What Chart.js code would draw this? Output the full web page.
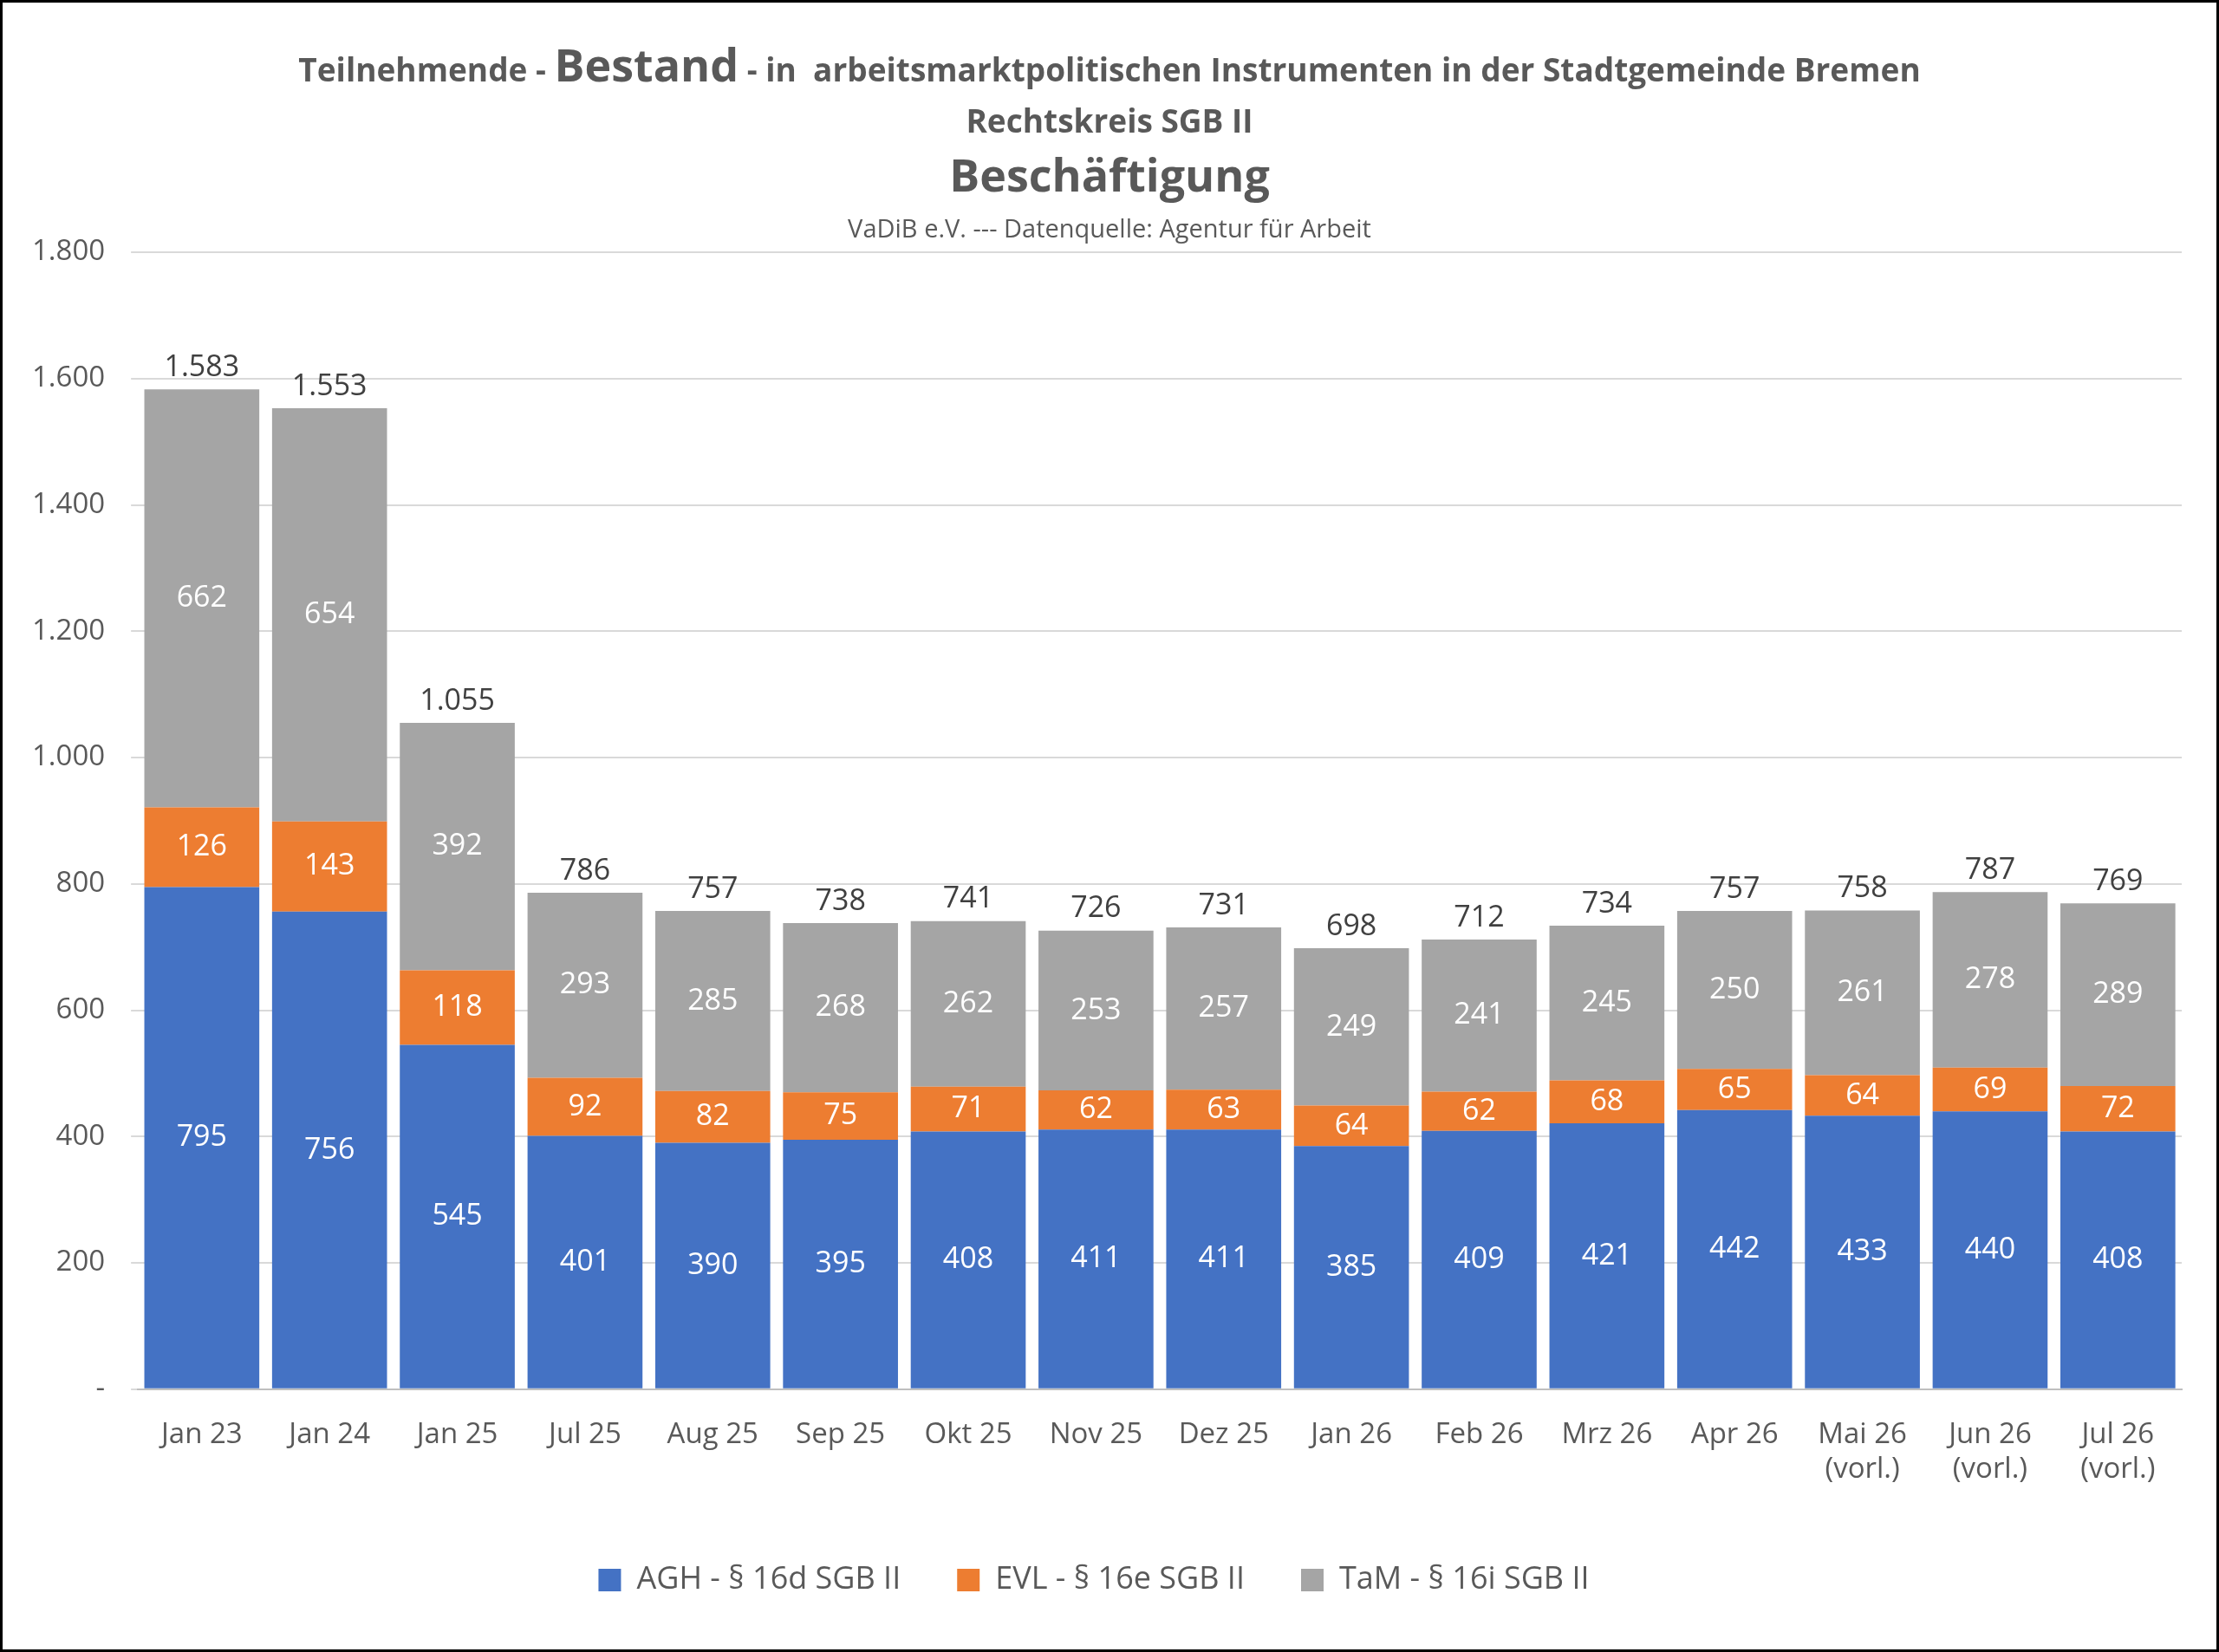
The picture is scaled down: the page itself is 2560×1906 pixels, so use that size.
<!DOCTYPE html>
<html lang="de">
<head>
<meta charset="UTF-8">
<title>Teilnehmende - Bestand - Beschäftigung</title>
<script src="https://cdn.jsdelivr.net/npm/chart.js@4/dist/chart.umd.min.js"></script>
<style>
    body { margin: 0; background: #fff; }
    #wrap { width: 2560px; height: 1906px; box-sizing: border-box; border: 3px solid #000; }
    canvas { display: block; }
</style>
</head>
<body>
<div id="wrap"><canvas id="chart" width="2554" height="1900"></canvas></div>
<script>
const labels = ['Jan 23', 'Jan 24', 'Jan 25', 'Jul 25', 'Aug 25', 'Sep 25', 'Okt 25', 'Nov 25', 'Dez 25',
    'Jan 26', 'Feb 26', 'Mrz 26', 'Apr 26', ['Mai 26', '(vorl.)'], ['Jun 26', '(vorl.)'], ['Jul 26', '(vorl.)']];
const agh = [795, 756, 545, 401, 390, 395, 408, 411, 411, 385, 409, 421, 442, 433, 440, 408];
const evl = [126, 143, 118, 92, 82, 75, 71, 62, 63, 64, 62, 68, 65, 64, 69, 72];
const tam = [662, 654, 392, 293, 285, 268, 262, 253, 257, 249, 241, 245, 250, 261, 278, 289];

const FONT = '"Open Sans", sans-serif';
const fmt = v => v.toLocaleString('de-DE');

// Title block drawn by hand because of the mixed font sizes
const titlePlugin = {
    id: 'titles',
    afterDraw(chart) {
        const ctx = chart.ctx;
        const cx = chart.width / 2;
        ctx.save();
        ctx.fillStyle = '#595959';
        ctx.textBaseline = 'alphabetic';
        const parts = [
            ['bold 37px ' + FONT, 'Teilnehmende - '],
            ['bold 52px ' + FONT, 'Bestand'],
            ['bold 37px ' + FONT, ' - in  arbeitsmarktpolitischen Instrumenten in der Stadtgemeinde Bremen']
        ];
        let total = 0;
        parts.forEach(p => { ctx.font = p[0]; total += ctx.measureText(p[1]).width; });
        let x = cx - total / 2;
        ctx.textAlign = 'left';
        parts.forEach(p => { ctx.font = p[0]; ctx.fillText(p[1], x, 91); x += ctx.measureText(p[1]).width; });
        ctx.textAlign = 'center';
        ctx.font = 'bold 37px ' + FONT;
        ctx.fillText('Rechtskreis SGB II', cx, 150);
        ctx.font = 'bold 52px ' + FONT;
        ctx.fillText('Beschäftigung', cx, 218);
        ctx.font = '29px ' + FONT;
        ctx.fillText('VaDiB e.V. --- Datenquelle: Agentur für Arbeit', cx, 271);
        ctx.restore();
    }
};

// Segment values and totals
const valuePlugin = {
    id: 'values',
    afterDatasetsDraw(chart) {
        const ctx = chart.ctx;
        ctx.save();
        ctx.textAlign = 'center';
        ctx.textBaseline = 'middle';
        ctx.font = '34px ' + FONT;
        chart.data.datasets.forEach((ds, di) => {
            chart.getDatasetMeta(di).data.forEach((bar, i) => {
                ctx.fillStyle = '#fff';
                ctx.fillText(fmt(ds.data[i]), bar.x, (bar.y + bar.base) / 2);
            });
        });
        const top = chart.getDatasetMeta(2).data;
        ctx.fillStyle = '#404040';
        ctx.textBaseline = 'bottom';
        top.forEach((bar, i) => {
            ctx.fillText(fmt(agh[i] + evl[i] + tam[i]), bar.x, bar.y - 8);
        });
        ctx.restore();
    }
};

new Chart(document.getElementById('chart'), {
    type: 'bar',
    data: {
        labels: labels,
        datasets: [
            { label: 'AGH - § 16d SGB II', data: agh, backgroundColor: '#4472C4' },
            { label: 'EVL - § 16e SGB II', data: evl, backgroundColor: '#ED7D31' },
            { label: 'TaM - § 16i SGB II', data: tam, backgroundColor: '#A5A5A5' }
        ]
    },
    options: {
        responsive: false,
        devicePixelRatio: 1,
        animation: false,
        barPercentage: 0.9,
        categoryPercentage: 1,
        layout: { padding: { top: 288, left: 4, right: 40, bottom: 52 } },
        scales: {
            x: {
                stacked: true,
                grid: { display: false },
                border: { color: '#bfbfbf', width: 2 },
                ticks: { color: '#595959', font: { family: FONT, size: 33 }, padding: 25, maxRotation: 0, autoSkip: false }
            },
            y: {
                stacked: true,
                min: 0, max: 1800,
                grid: { color: '#d9d9d9', lineWidth: 2 },
                border: { display: false },
                ticks: {
                    stepSize: 200, color: '#595959', font: { family: FONT, size: 33 }, padding: 30,
                    callback: v => v === 0 ? '-' : fmt(v)
                }
            }
        },
        plugins: {
            tooltip: { enabled: false },
            legend: {
                position: 'bottom',
                labels: {
                    color: '#595959', font: { family: FONT, size: 36 },
                    boxWidth: 26, boxHeight: 26, padding: 65
                }
            }
        }
    },
    plugins: [titlePlugin, valuePlugin]
});
</script>
</body>
</html>
